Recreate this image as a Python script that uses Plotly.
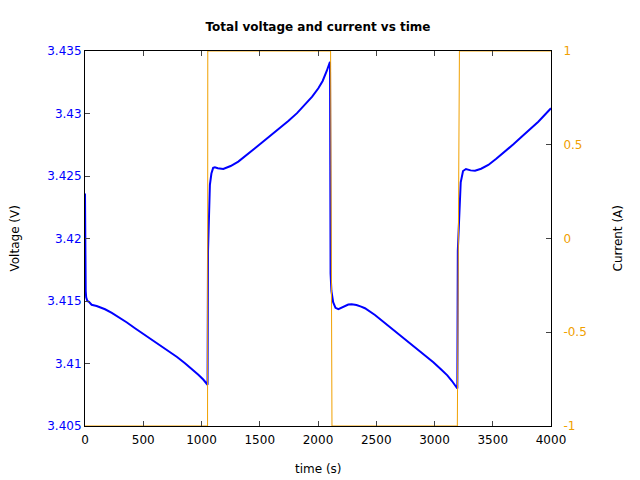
import plotly.graph_objects as go

# Voltage data (time in s, voltage in V)
t_v = [0, 1, 3, 6, 10, 20, 34, 57, 100, 172, 230, 286, 360, 429, 500, 572, 645, 715, 790, 858, 920, 973, 1015, 1052,
       1056, 1062, 1072, 1085, 1100, 1115, 1140, 1187, 1250, 1316, 1390, 1459, 1530, 1602, 1675, 1745, 1820, 1888,
       1950, 2003, 2040, 2075, 2103,
       2108, 2115, 2130, 2150, 2175, 2200, 2230, 2260, 2289, 2330, 2370, 2403, 2489, 2560, 2632, 2700, 2775, 2850,
       2918, 2990, 3062, 3110, 3150, 3196,
       3200, 3212, 3225, 3245, 3270, 3310, 3348, 3400, 3462, 3530, 3605, 3675, 3748, 3820, 3891, 4000]
v = [3.4236, 3.4200, 3.4170, 3.4158, 3.4153, 3.4150, 3.41494, 3.4147, 3.4146, 3.41434, 3.41405, 3.41374, 3.41328,
     3.41282, 3.41238, 3.41194, 3.41148, 3.4110, 3.41052, 3.41002, 3.40955, 3.4091, 3.40872, 3.4083,
     3.4190, 3.4222, 3.4243, 3.4252, 3.42565, 3.42570, 3.42562, 3.42556, 3.4258, 3.42615, 3.42668, 3.42722,
     3.42776, 3.4283, 3.42885, 3.4294, 3.43003, 3.43068, 3.43135, 3.43202, 3.4326, 3.4334, 3.43414,
     3.4172, 3.4158, 3.4149, 3.41445, 3.41434, 3.41445, 3.41462, 3.41472, 3.41474, 3.41468, 3.41455, 3.41442,
     3.41388, 3.41335, 3.41282, 3.4123, 3.41174, 3.4112, 3.41068, 3.4101, 3.40948, 3.40905, 3.4086, 3.4080,
     3.4190, 3.4225, 3.4245, 3.4254, 3.42556, 3.42545, 3.42542, 3.42558, 3.42588, 3.42638, 3.42694, 3.42752,
     3.42814, 3.42874, 3.42934, 3.43042]

# Current data (time in s, current in A)
t_i = [0, 1052, 1054, 2108, 2120, 3196, 3214, 4000]
cur = [-1, -1, 1, 1, -1, -1, 1, 1]

v_ticks = [3.405, 3.41, 3.415, 3.42, 3.425, 3.43, 3.435]
v_ticktext = ["3.405", "3.41", "3.415", "3.42", "3.425", "3.43", "3.435"]
i_ticks = [-1, -0.5, 0, 0.5, 1]
i_ticktext = ["-1", "-0.5", "0", "0.5", "1"]
x_ticks = [0, 500, 1000, 1500, 2000, 2500, 3000, 3500, 4000]

BLUE = "#0000ff"
ORANGE = "#f0a000"

fig = go.Figure()
fig.add_trace(go.Scatter(x=t_i, y=cur, mode="lines", yaxis="y2",
                         line=dict(color=ORANGE, width=1), showlegend=False))
fig.add_trace(go.Scatter(x=t_v, y=v, mode="lines", yaxis="y",
                         line=dict(color=BLUE, width=2), showlegend=False))

font = "DejaVu Sans, sans-serif"
fig.update_layout(
    width=640, height=480,
    margin=dict(l=85, r=89, t=51, b=54),
    paper_bgcolor="white", plot_bgcolor="white",
    font=dict(family=font, size=12, color="black"),
    title=dict(text="<b>Total voltage and current vs time</b>", x=0.5, xref="paper",
               y=0.945, yref="container", xanchor="center", yanchor="middle",
               font=dict(size=12, family=font)),
    xaxis=dict(range=[0, 4000], tickvals=x_ticks, ticks="inside", ticklen=5,
               showline=True, linecolor="black", linewidth=1, mirror="ticks",
               ticklabelstandoff=3,
               showgrid=False, zeroline=False, tickfont=dict(color="black", size=12)),
    yaxis=dict(range=[3.405, 3.435], tickvals=v_ticks, ticktext=v_ticktext,
               ticks="inside", ticklen=5, showline=True, linecolor="black",
               linewidth=1, mirror=True, showgrid=False, zeroline=False,
               tickfont=dict(color=BLUE, size=12)),
    yaxis2=dict(range=[-1, 1], tickvals=i_ticks, ticktext=i_ticktext,
                overlaying="y", side="right", ticks="inside", ticklen=5,
                showline=True, linecolor="black", linewidth=1, ticklabelstandoff=9,
                showgrid=False, zeroline=False, tickfont=dict(color=ORANGE, size=12)),
    annotations=[
        dict(text="time (s)", x=(318 - 85) / 466, xref="paper", y=-(469 - 426) / 375,
             yref="paper", showarrow=False, xanchor="center", yanchor="middle",
             font=dict(size=12, family=font)),
        dict(text="Voltage (V)", x=-(85 - 14) / 466, xref="paper", y=0.5, yref="paper",
             showarrow=False, textangle=-90, xanchor="center", yanchor="middle",
             font=dict(size=12, family=font)),
        dict(text="Current (A)", x=(617 - 85) / 466, xref="paper", y=0.5, yref="paper",
             showarrow=False, textangle=-90, xanchor="center", yanchor="middle",
             font=dict(size=12, family=font)),
    ],
)

fig.write_html("out.html")
